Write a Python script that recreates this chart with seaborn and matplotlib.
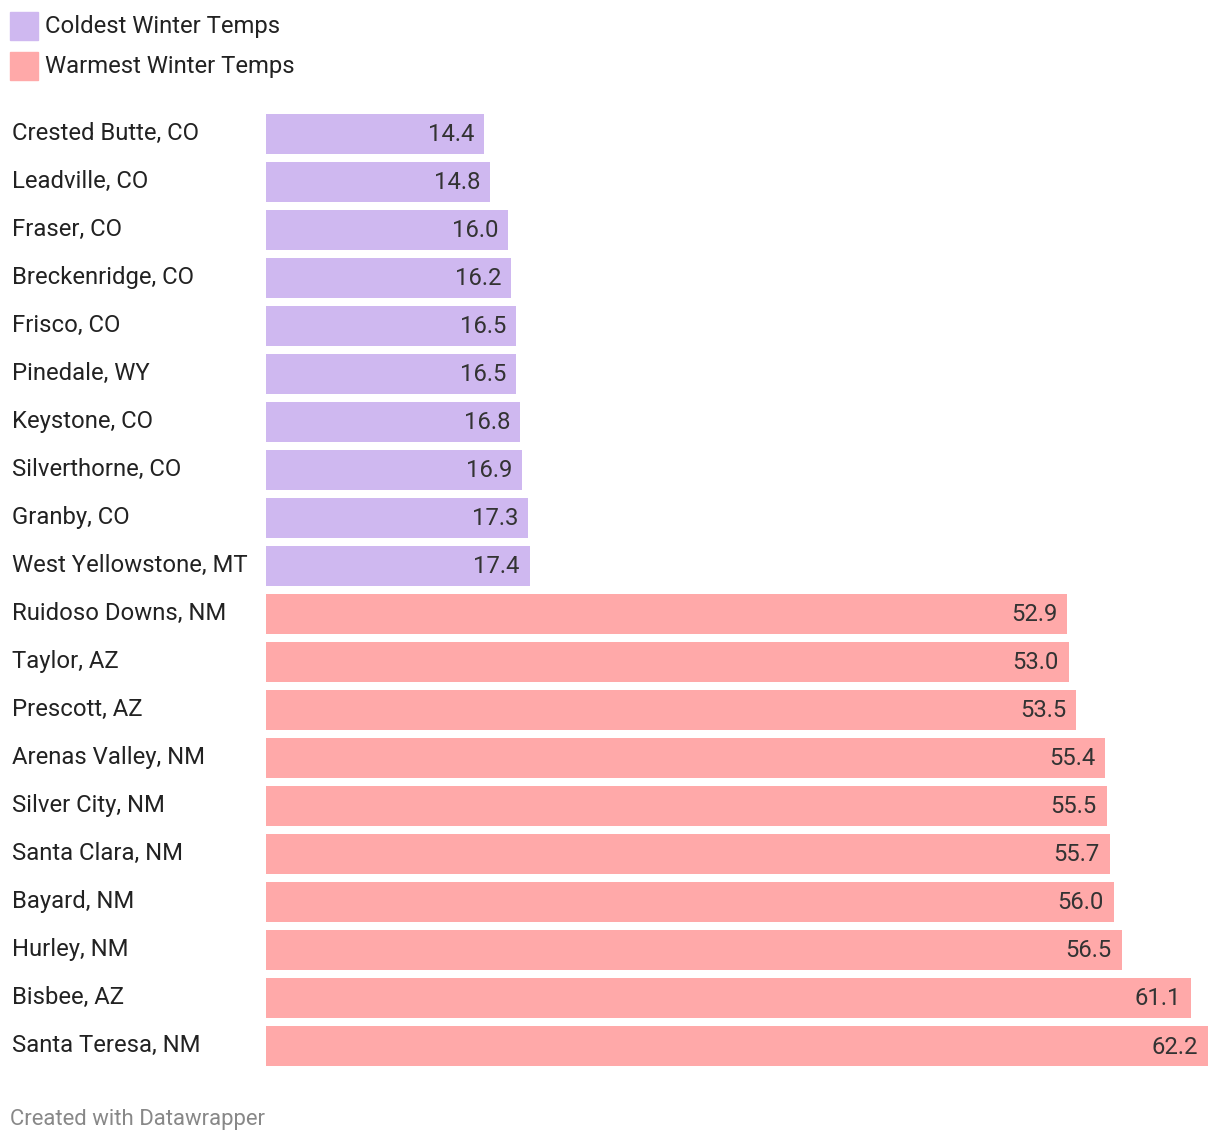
import pandas as pd
import matplotlib.pyplot as plt
import matplotlib.transforms as mtransforms
from matplotlib.patches import Rectangle
import seaborn as sns

# Data
cities = ["Crested Butte, CO", "Leadville, CO", "Fraser, CO", "Breckenridge, CO",
          "Frisco, CO", "Pinedale, WY", "Keystone, CO", "Silverthorne, CO",
          "Granby, CO", "West Yellowstone, MT",
          "Ruidoso Downs, NM", "Taylor, AZ", "Prescott, AZ", "Arenas Valley, NM",
          "Silver City, NM", "Santa Clara, NM", "Bayard, NM", "Hurley, NM",
          "Bisbee, AZ", "Santa Teresa, NM"]
temps = [14.4, 14.8, 16.0, 16.2, 16.5, 16.5, 16.8, 16.9, 17.3, 17.4,
         52.9, 53.0, 53.5, 55.4, 55.5, 55.7, 56.0, 56.5, 61.1, 62.2]
groups = ["Coldest Winter Temps"] * 10 + ["Warmest Winter Temps"] * 10
group_colors = {"Coldest Winter Temps": "#cfb8f0", "Warmest Winter Temps": "#ffa9a9"}

df = pd.DataFrame({"city": cities, "temp": temps, "group": groups})

sns.set_style("white")
plt.rcParams['font.family'] = ['Roboto', 'DejaVu Sans']

W, H = 1220, 1142
fig = plt.figure(figsize=(W / 100, H / 100), dpi=100)
ax = fig.add_axes([266 / W, 1 - 1070 / H, (1208 - 266) / W, 960 / H])

sns.barplot(data=df, x="temp", y="city", hue="group", palette=group_colors,
            dodge=False, width=40 / 48, legend=False, ax=ax, saturation=1,
            linewidth=0)

ax.set_xlim(0, max(temps))
ax.set_ylim(len(cities) - 0.5, -0.5)
ax.set_xlabel("")
ax.set_ylabel("")
ax.set_xticks([])
ax.set_yticks([])
sns.despine(ax=ax, left=True, bottom=True)

# city labels on the left, value labels inside the bar ends
label_trans = mtransforms.blended_transform_factory(fig.transFigure, ax.transData)
for i, (c, t) in enumerate(zip(cities, temps)):
    ax.text(12 / W, i - 0.01, c, transform=label_trans, ha="left", va="center",
            fontsize=17.2, color="#222222")
    ax.annotate(f"{t:.1f}", xy=(t, i), xytext=(-10, -1), textcoords="offset pixels",
                ha="right", va="center", fontsize=17.2, color="#333333")

# legend
for j, g in enumerate(group_colors):
    y0 = 12 + j * 40
    fig.patches.append(Rectangle((10 / W, 1 - (y0 + 28) / H), 28 / W, 28 / H,
                                 transform=fig.transFigure, color=group_colors[g]))
    fig.text(45 / W, 1 - (y0 + 15) / H, g, ha="left", va="center",
             fontsize=17.2, color="#222222")

fig.text(10 / W, 1 - 1119 / H, "Created with Datawrapper", ha="left", va="center",
         fontsize=15.9, color="#888888")

fig.savefig("out.png", dpi=100, facecolor="white")
